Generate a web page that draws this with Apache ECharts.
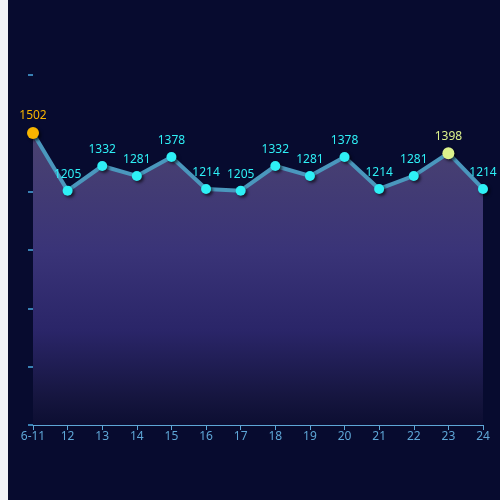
<!DOCTYPE html>
<html>
<head>
<meta charset="utf-8">
<script src="https://cdn.jsdelivr.net/npm/echarts@6/dist/echarts.min.js"></script>
<style>
  html, body { margin: 0; padding: 0; background: #f1f3f8; }
  #chart { position: absolute; left: 8px; top: 0; width: 492px; height: 500px; background: #070b2f; }
</style>
</head>
<body>
<div id="chart"></div>
<script>
var days = ['6-11', '12', '13', '14', '15', '16', '17', '18', '19', '20', '21', '22', '23', '24'];
var counts = [1502, 1205, 1332, 1281, 1378, 1214, 1205, 1332, 1281, 1378, 1214, 1281, 1398, 1214];
// points that get their own colour
var firstIdx = 0;
var peakIdx = 12;

var chartDom = document.getElementById('chart');
var myChart = echarts.init(chartDom);

var seriesData = counts.map(function (v, i) {
  if (i === firstIdx) {
    return { value: v, symbolSize: 12, itemStyle: { color: '#f7b500' }, label: { color: '#f7b500' } };
  }
  if (i === peakIdx) {
    return { value: v, symbolSize: 12, itemStyle: { color: '#dcf28c' }, label: { color: '#dcf28c' } };
  }
  return v;
});

var option = {
  backgroundColor: '#070b2f',
  textStyle: { fontFamily: 'Noto Sans' },
  grid: { left: 25, right: 17, top: 75, bottom: 75 },
  xAxis: {
    type: 'category',
    data: days,
    boundaryGap: false,
    axisLine: { lineStyle: { color: '#5ea6d6' } },
    axisTick: { show: true, alignWithLabel: true, lineStyle: { color: '#5ea6d6' } },
    axisLabel: { color: '#5ea6d6', fontSize: 12, margin: 6 }
  },
  yAxis: {
    type: 'value',
    min: 0,
    max: 1800,
    interval: 300,
    axisLine: { show: false },
    axisTick: { show: true, length: 5, lineStyle: { color: '#4aa8e0', width: 1.5 } },
    axisLabel: { show: false },
    splitLine: { show: false }
  },
  series: [{
    type: 'line',
    data: seriesData,
    symbol: 'circle',
    symbolSize: 10,
    lineStyle: { color: '#4a97bd', width: 4 },
    itemStyle: {
      color: '#2ef0f6',
      shadowColor: 'rgba(0,0,0,0.6)',
      shadowBlur: 3,
      shadowOffsetX: 2,
      shadowOffsetY: 2
    },
    label: { show: true, position: 'top', color: '#2ef0f6', fontSize: 12, distance: 5 },
    areaStyle: {
      opacity: 1,
      color: new echarts.graphic.LinearGradient(0, 0, 0, 1, [
        { offset: 0, color: '#4a4270' },
        { offset: 0.4, color: '#3a3478' },
        { offset: 0.68, color: '#2a2568' },
        { offset: 0.91, color: '#15153e' },
        { offset: 1, color: '#0c0e32' }
      ])
    }
  }]
};

option && myChart.setOption(option);
</script>
</body>
</html>
